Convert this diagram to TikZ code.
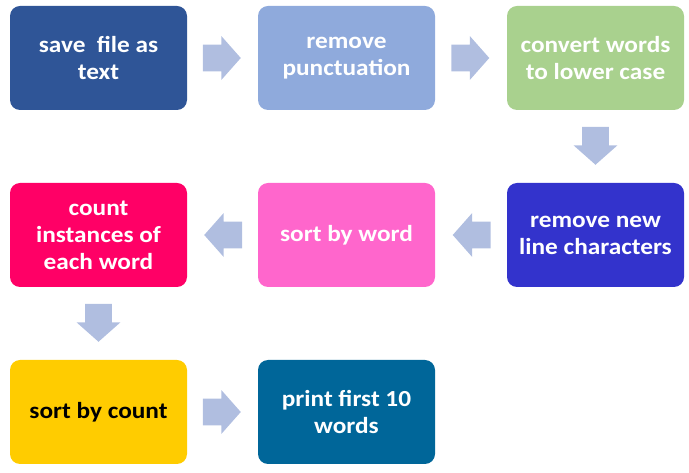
\documentclass[tikz,border=0pt]{standalone}
\usepackage{fontspec}
\setmainfont{Carlito}[FakeStretch=1.1]
\usetikzlibrary{calc,shapes.arrows}

\tikzset{
  stepbox/.style={rounded corners=7.5pt, draw=none, minimum width=132.75pt, minimum height=78pt,
    inner sep=0pt, align=center, text=white, font=\bfseries\fontsize{17.25}{20.25}\selectfont},
  flowarrow/.style={single arrow, draw=none, fill={rgb, 255:red, 176; green, 190; blue, 224 },
    minimum height=28.5pt, minimum width=32.25pt, single arrow head extend=6.4pt,
    single arrow tip angle=97, single arrow head indent=0pt, inner xsep=0pt, inner ysep=9.75pt,
    anchor=tail}
}

\begin{document}
\begin{tikzpicture}[x=0.75pt,y=0.75pt,yscale=-1,xscale=1]
      \useasboundingbox (0,0) rectangle (689,473);

      % Row 1
      \node [stepbox, fill={rgb, 255:red, 47; green, 85; blue, 151 }] (save) at (98.5,58) {save\ \ file as\\text};
      \node [stepbox, fill={rgb, 255:red, 143; green, 170; blue, 220 }] (punct) at (346.5,58) {remove\\punctuation};
      \node [stepbox, fill={rgb, 255:red, 169; green, 209; blue, 142 }] (lower) at (595.5,58) {convert words\\to lower case};
      % Row 2
      \node [stepbox, fill={rgb, 255:red, 51; green, 51; blue, 204 }] (newline) at (595.5,235) {remove new\\line characters};
      \node [stepbox, fill={rgb, 255:red, 255; green, 102; blue, 204 }] (sortword) at (346.5,235) {sort by word};
      \node [stepbox, fill={rgb, 255:red, 255; green, 0; blue, 102 }] (count) at (98.5,235) {count\\instances of\\each word};
      % Row 3
      \node [stepbox, text=black, fill={rgb, 255:red, 255; green, 204; blue, 0 }] (sortcount) at (98.5,412) {sort by count};
      \node [stepbox, fill={rgb, 255:red, 0; green, 102; blue, 153 }] (print) at (346.5,412) {print first 10\\words};

      % Block arrows (tail placed half a length before the gap middle)
      \node [flowarrow] at ($(save.east)!0.5!(punct.west) + (-20,0)$) {};
      \node [flowarrow] at ($(punct.east)!0.5!(lower.west) + (-20,0)$) {};
      \node [flowarrow, rotate=-90] at ($(lower.south)!0.5!(newline.north) + (0,-20)$) {};
      \node [flowarrow, rotate=180] at ($(newline.west)!0.5!(sortword.east) + (20,0)$) {};
      \node [flowarrow, rotate=180] at ($(sortword.west)!0.5!(count.east) + (20,0)$) {};
      \node [flowarrow, rotate=-90] at ($(count.south)!0.5!(sortcount.north) + (0,-20)$) {};
      \node [flowarrow] at ($(sortcount.east)!0.5!(print.west) + (-20,0)$) {};
\end{tikzpicture}
\end{document}
